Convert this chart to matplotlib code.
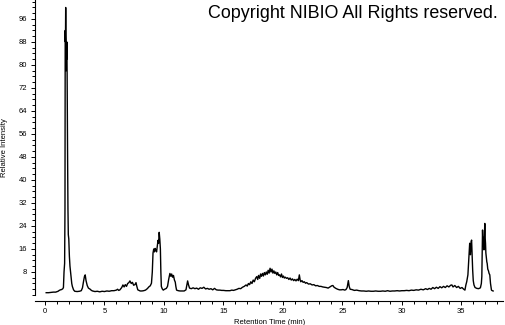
import matplotlib
matplotlib.use("Agg")
import matplotlib.pyplot as plt
import numpy as np

plt.rcParams["font.family"] = ["Liberation Sans", "DejaVu Sans"]

# retention time (min) and relative intensity
rt = [
    0.1, 0.3, 0.5, 0.7, 0.9, 1.1, 1.2, 1.3, 1.4, 1.5, 1.55, 1.6, 1.65, 1.68,
    1.7, 1.72, 1.74, 1.76, 1.78, 1.8, 1.82, 1.84, 1.86, 1.88, 1.9, 1.93, 1.96,
    2.0, 2.05, 2.1, 2.15, 2.2, 2.25, 2.3, 2.4, 2.5, 2.7, 2.9, 3.05, 3.15, 3.25,
    3.32, 3.38, 3.45, 3.55, 3.65, 3.8, 3.9, 4.0, 4.2, 4.4, 4.6, 4.8, 5.0, 5.2,
    5.4, 5.6, 5.8, 6.0, 6.1, 6.2, 6.3, 6.45, 6.55, 6.65, 6.75, 6.85, 6.95,
    7.05, 7.14, 7.25, 7.35, 7.45, 7.56, 7.65, 7.72, 7.8, 7.9, 8.0, 8.15, 8.3,
    8.45, 8.6, 8.75, 8.85, 8.95, 9.02, 9.08, 9.14, 9.2, 9.26, 9.32, 9.38,
    9.44, 9.5, 9.55, 9.6, 9.65, 9.7, 9.74, 9.78, 9.85, 9.94, 10.05, 10.2,
    10.3, 10.4, 10.5, 10.58, 10.65, 10.72, 10.8, 10.88, 10.95, 11.0, 11.06,
    11.2, 11.35, 11.5, 11.7, 11.85, 11.93, 11.99, 12.06, 12.15, 12.3, 12.45,
    12.6, 12.75, 12.9, 13.05, 13.2, 13.35, 13.5, 13.65, 13.8, 13.95, 14.1,
    14.25, 14.4, 14.55, 14.7, 14.85, 15.0, 15.2, 15.4, 15.55, 15.7, 15.85,
    16.0, 16.15, 16.3, 16.45, 16.6, 16.75, 16.9, 17.0, 17.1, 17.2, 17.3, 17.4,
    17.5, 17.6, 17.7, 17.8, 17.88, 17.95, 18.05, 18.12, 18.2, 18.28, 18.36,
    18.44, 18.52, 18.6, 18.68, 18.76, 18.84, 18.92, 19.0, 19.08, 19.16, 19.24,
    19.32, 19.4, 19.48, 19.56, 19.64, 19.72, 19.8, 19.88, 19.96, 20.04, 20.12,
    20.2, 20.3, 20.4, 20.5, 20.6, 20.7, 20.8, 20.9, 21.0, 21.1, 21.2, 21.3,
    21.38, 21.45, 21.5, 21.6, 21.7, 21.8, 21.9, 22.0, 22.15, 22.3, 22.45,
    22.6, 22.75, 22.9, 23.05, 23.2, 23.35, 23.5, 23.65, 23.8, 23.95, 24.1,
    24.2, 24.3, 24.45, 24.6, 24.75, 24.9, 25.05, 25.2, 25.3, 25.4, 25.5,
    25.57, 25.65, 25.8, 26.0, 26.2, 26.4, 26.6, 26.8, 27.0, 27.2, 27.4, 27.6,
    27.8, 28.0, 28.2, 28.4, 28.6, 28.8, 29.0, 29.2, 29.4, 29.6, 29.8, 30.0,
    30.2, 30.4, 30.6, 30.8, 31.0, 31.2, 31.4, 31.6, 31.8, 32.0, 32.15, 32.3,
    32.45, 32.6, 32.75, 32.9, 33.05, 33.2, 33.35, 33.5, 33.65, 33.8, 33.95,
    34.1, 34.2, 34.3, 34.45, 34.6, 34.75, 34.9, 35.05, 35.2, 35.3, 35.38,
    35.45, 35.55, 35.62, 35.7, 35.76, 35.82, 35.86, 35.9, 35.95, 36.0, 36.06,
    36.15, 36.3, 36.45, 36.6, 36.68, 36.72, 36.76, 36.78, 36.82, 36.86, 36.9,
    36.94, 36.97, 37.0, 37.03, 37.06, 37.1, 37.14, 37.17, 37.22, 37.28, 37.33,
    37.39, 37.45, 37.53, 37.6, 37.67,
]
intensity = [
    0.8, 0.8, 0.9, 1.0, 1.0, 1.3, 1.6, 1.8, 1.9, 2.2, 2.6, 8, 11, 30,
    92, 88, 100, 90, 78, 85, 82, 88, 77, 60, 48, 30, 21,
    19.5, 13.5, 10, 8, 6, 4, 3, 1.8, 1.3, 1.2, 1.3, 1.5, 2.5, 5,
    6.5, 7, 5, 3.3, 2.4, 2.0, 1.6, 1.4, 1.2, 1.3, 1.1, 1.3, 1.2, 1.4,
    1.3, 1.5, 1.5, 1.7, 2.0, 1.6, 1.8, 2.6, 3.5, 2.8, 3.6, 3.0, 4.0,
    4.3, 4.9, 4.0, 4.4, 3.4, 3.6, 4.3, 3.0, 1.8, 1.6, 1.4, 1.4, 1.5,
    1.7, 2.2, 2.9, 3.2, 4.1, 8, 14.6, 16, 15, 16.2, 15.5, 15,
    17, 19, 18, 21.8, 19.5, 16, 8, 3, 2.2, 1.7, 2.0, 2.3,
    3.0, 5.5, 7.5, 6.5, 7.3, 6.2, 6.8, 5.2, 4.5, 3.0, 1.7,
    1.5, 1.4, 1.4, 1.4, 1.8, 3.5, 4.9, 3.6, 2.4, 2.2, 2.5,
    2.2, 2.4, 2.0, 2.5, 2.3, 2.7, 2.1, 2.3, 2.0, 2.2, 1.8,
    2.3, 1.8, 1.7, 1.7, 1.6, 1.6, 1.5, 1.5, 1.5, 1.7, 1.6,
    1.8, 2.0, 2.3, 2.2, 2.7, 3.0, 3.5, 3.1, 4.0, 3.6, 4.6, 4.0,
    5.2, 4.6, 5.8, 6.4, 5.4, 6.8, 5.8, 7.3, 6.5, 7.5, 6.6,
    7.8, 7.0, 8.0, 7.2, 8.6, 7.6, 9.3, 8.0, 9.0, 7.6, 8.4,
    7.5, 8.0, 7.0, 7.8, 6.8, 7.0, 6.3, 7.3, 6.1, 6.6, 5.9,
    6.2, 5.8, 6.0, 5.4, 5.9, 5.2, 5.6, 5.0, 5.4, 4.9, 5.5, 5.0,
    7.0, 5.2, 4.6, 5.0, 4.4, 4.6, 4.1, 4.3, 3.8, 3.9, 3.5,
    3.6, 3.2, 3.3, 3.0, 3.0, 2.8, 2.7, 2.6, 2.4, 2.8, 3.2,
    3.3, 2.7, 2.3, 2.0, 1.8, 1.8, 1.9, 1.7, 1.9, 2.6, 5.0,
    3.0, 2.0, 1.9, 1.6, 1.7, 1.5, 1.4, 1.4, 1.3, 1.4, 1.3, 1.3,
    1.4, 1.3, 1.3, 1.4, 1.3, 1.5, 1.3, 1.4, 1.4, 1.5, 1.4, 1.5,
    1.5, 1.6, 1.5, 1.7, 1.6, 1.8, 1.7, 2.0, 1.8, 2.2, 1.9, 2.3,
    2.0, 2.6, 2.2, 2.7, 2.3, 2.9, 2.5, 3.0, 2.6, 3.2, 2.8,
    3.4, 3.5, 2.8, 3.3, 2.6, 3.0, 2.3, 2.6, 2.0, 1.7, 3.5,
    4.6, 7, 12, 18, 14, 18.5, 19.1, 14, 8.7, 5, 3.5,
    2.6, 2.3, 2.2, 2.5, 4, 6.4, 18, 22.6, 17, 20, 15.7,
    21, 24.9, 20, 18, 14.6, 13, 11.5, 11, 9, 8.4, 7.5,
    7, 4, 1.7, 1.5, 1.4,
]

x_major = [0, 5, 10, 15, 20, 25, 30, 35]
y_major = [8, 16, 24, 32, 40, 48, 56, 64, 72, 80, 88, 96]

fig = plt.figure(figsize=(5.05, 3.25), dpi=100)
ax = fig.add_axes([35 / 505, 30 / 325, 468 / 505, 295 / 325])

ax.plot(rt, intensity, color="black", lw=1.0)

ax.set_xlim(-0.84, 38.5)
ax.set_ylim(0, 102.6)

ax.set_xticks(x_major)
ax.set_xticks(np.arange(0, 39, 1), minor=True)
ax.set_yticks(y_major)
ax.set_yticks(np.arange(0, 103, 2), minor=True)
ax.set_xticklabels([str(v) for v in x_major])
ax.set_yticklabels([str(v) for v in y_major])

for s in ("top", "right"):
    ax.spines[s].set_visible(False)
ax.spines["bottom"].set_position(("outward", 4.3))
ax.spines["left"].set_linewidth(0.8)
ax.spines["bottom"].set_linewidth(0.8)

ax.tick_params(which="both", direction="out", width=0.7, labelsize=5.5, color="black")
ax.tick_params(which="major", length=3)
ax.tick_params(which="minor", length=2.5)
ax.tick_params(axis="x", pad=2)
ax.tick_params(axis="y", pad=2.5)

ax.set_xlabel("Retention Time (min)", fontsize=5.5)
ax.xaxis.set_label_coords(0.502, -0.083)
ax.set_ylabel("Relative Intensity", fontsize=5.5)
ax.yaxis.set_label_coords(-0.058, 0.5)

fig.text(498 / 505, 1 - 14 / 325, "Copyright NIBIO All Rights reserved.",
         ha="right", va="center", fontsize=12.9)

fig.savefig("out.png", dpi=100)
